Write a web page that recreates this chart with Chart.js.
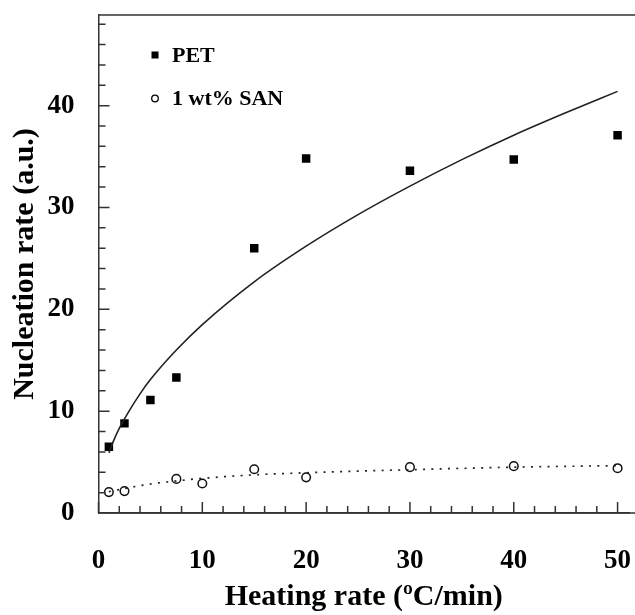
<!DOCTYPE html>
<html>
<head>
<meta charset="utf-8">
<script src="https://cdn.jsdelivr.net/npm/chart.js@4.4.1/dist/chart.umd.min.js"></script>
<style>
  html, body { margin: 0; padding: 0; background: #fff; }
  canvas { display: block; }
</style>
</head>
<body>
<canvas id="chart" width="635" height="615"></canvas>
<script>
// measured points
const petRates = [1, 2.5, 5, 7.5, 15, 20, 30, 40, 50];
const petValues = [6.5, 8.8, 11.1, 13.3, 26.0, 34.8, 33.6, 34.7, 37.1];
const sanRates = [1, 2.5, 7.5, 10, 15, 20, 30, 40, 50];
const sanValues = [2.05, 2.15, 3.35, 2.9, 4.3, 3.5, 4.5, 4.6, 4.4];

// fitted curves
const petFitRates = [1, 1.5, 2, 3, 4, 5, 7.5, 10, 15, 20, 25, 30, 35, 40, 45, 50];
const petFitValues = [5.9, 7.2, 8.3, 10.1, 11.7, 13.1, 16.0, 18.5, 22.7, 26.2, 29.3, 32.1, 34.7, 37.1, 39.3, 41.4];
const sanFitRates = [1, 2.5, 5, 7.5, 10, 15, 20, 30, 40, 50];
const sanFitValues = [2.1, 2.4, 2.85, 3.15, 3.4, 3.75, 3.95, 4.25, 4.5, 4.65];

const xTicks = [0, 10, 20, 30, 40, 50];
const yTicks = [0, 10, 20, 30, 40];
const legendLabels = ['PET', '1 wt% SAN'];

const FONT = '"Liberation Serif", "Times New Roman", serif';
const pts = (xs, ys) => xs.map((x, i) => ({ x: x, y: ys[i] }));

// inward tick marks + frame lines running out to the right edge
const frame = {
  id: 'frame',
  afterDatasetsDraw(chart) {
    const { ctx, chartArea: a, scales: { x, y } } = chart;
    ctx.save();
    ctx.strokeStyle = '#333';
    ctx.lineWidth = 1.5;
    ctx.beginPath();
    ctx.moveTo(a.left, a.top);
    ctx.lineTo(chart.width, a.top);
    ctx.moveTo(a.left, a.bottom);
    ctx.lineTo(chart.width, a.bottom);
    for (let v = 0; v <= 50; v += 2) {
      const px = x.getPixelForValue(v);
      const len = v % 10 === 0 ? 11 : 7;
      ctx.moveTo(px, a.bottom);
      ctx.lineTo(px, a.bottom - len);
    }
    for (let v = 0; v <= 48; v += 2) {
      const py = y.getPixelForValue(v);
      const len = v % 10 === 0 ? 11 : 7;
      ctx.moveTo(a.left, py);
      ctx.lineTo(a.left + len, py);
    }
    ctx.stroke();
    ctx.restore();
  }
};

// legend inside the plot, top left
const insideLegend = {
  id: 'insideLegend',
  afterDraw(chart) {
    const ctx = chart.ctx;
    ctx.save();
    ctx.fillStyle = '#000';
    ctx.strokeStyle = '#000';
    ctx.fillRect(151.5, 51.5, 7, 7);
    ctx.lineWidth = 1.3;
    ctx.beginPath();
    ctx.arc(155, 98.5, 3.3, 0, Math.PI * 2);
    ctx.stroke();
    ctx.font = 'bold 22px ' + FONT;
    ctx.textBaseline = 'middle';
    ctx.fillText(legendLabels[0], 172, 56);
    ctx.fillText(legendLabels[1], 172, 99);
    ctx.restore();
  }
};

new Chart(document.getElementById('chart'), {
  type: 'scatter',
  data: {
    datasets: [
      {
        label: 'PET fit',
        data: pts(petFitRates, petFitValues),
        showLine: true,
        borderColor: '#222',
        borderWidth: 1.6,
        pointRadius: 0,
        cubicInterpolationMode: 'monotone'
      },
      {
        label: 'SAN fit',
        data: pts(sanFitRates, sanFitValues),
        showLine: true,
        borderColor: '#222',
        borderWidth: 1.7,
        borderDash: [2, 6.3],
        pointRadius: 0,
        cubicInterpolationMode: 'monotone'
      },
      {
        label: legendLabels[0],
        data: pts(petRates, petValues),
        pointStyle: 'rect',
        pointRadius: 6,
        backgroundColor: '#000',
        borderColor: '#000',
        borderWidth: 0
      },
      {
        label: legendLabels[1],
        data: pts(sanRates, sanValues),
        pointStyle: 'circle',
        pointRadius: 4.3,
        backgroundColor: '#fff',
        borderColor: '#111',
        borderWidth: 1.5
      }
    ]
  },
  options: {
    responsive: false,
    animation: false,
    layout: { padding: { top: 15, right: 0, left: 0, bottom: 0 } },
    plugins: { legend: { display: false }, tooltip: { enabled: false } },
    scales: {
      x: {
        type: 'linear',
        min: 0,
        max: 51.1,
        afterBuildTicks: s => { s.ticks = xTicks.map(v => ({ value: v })); },
        afterFit: s => {
          s.height = 102;
          s.paddingLeft = 0;
          s.paddingRight = 0;
        },
        grid: { display: false, drawTicks: false },
        border: { display: true, color: '#333', width: 1.5 },
        ticks: {
          color: '#000',
          padding: 32,
          maxRotation: 0,
          font: { family: FONT, size: 27, weight: 'bold' }
        },
        title: {
          display: true,
          text: 'Heating rate (ºC/min)',
          color: '#000',
          padding: { top: 0, bottom: 0 },
          font: { family: FONT, size: 30, weight: 'bold' }
        }
      },
      y: {
        type: 'linear',
        min: 0,
        max: 48.9,
        afterBuildTicks: s => { s.ticks = yTicks.map(v => ({ value: v })); },
        afterFit: s => {
          s.width = 98.5;
          s.paddingTop = 0;
          s.paddingBottom = 0;
        },
        grid: { display: false, drawTicks: false },
        border: { display: true, color: '#333', width: 1.5 },
        ticks: {
          color: '#000',
          padding: 24,
          font: { family: FONT, size: 27, weight: 'bold' }
        },
        title: {
          display: true,
          text: 'Nucleation rate (a.u.)',
          color: '#000',
          padding: { top: 7, bottom: 0 },
          font: { family: FONT, size: 30, weight: 'bold' }
        }
      }
    }
  },
  plugins: [frame, insideLegend]
});
</script>
</body>
</html>
